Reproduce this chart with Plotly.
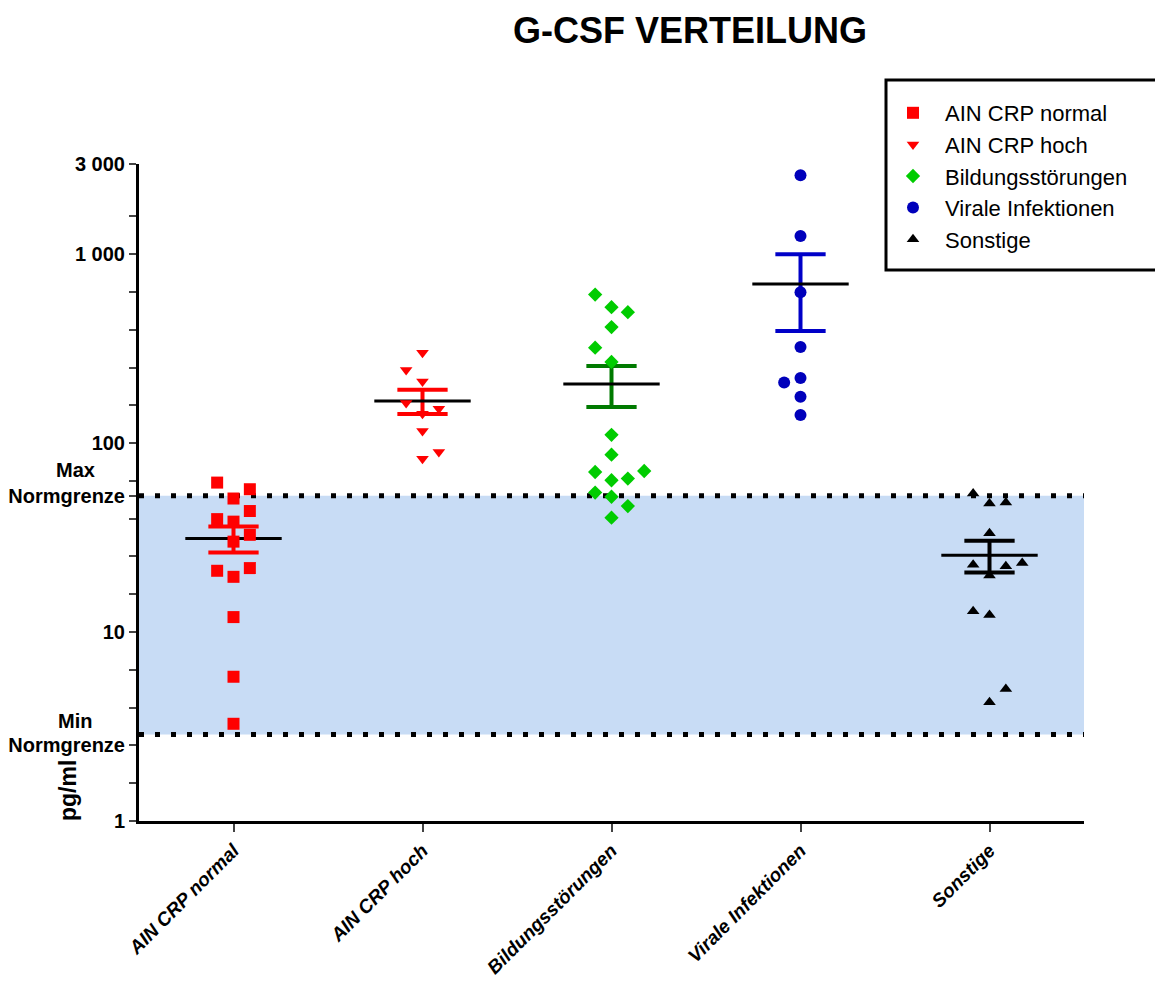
import numpy as np
import plotly.graph_objects as go

# ---------------- data ----------------
categories = ["AIN CRP normal", "AIN CRP hoch", "Bildungsstörungen", "Virale Infektionen", "Sonstige"]

ain_crp_normal = [61.8, 57.0, 50.9, 43.7, 39.6, 38.4, 32.7, 30.1, 21.1, 19.6, 21.8, 12.0, 5.8, 3.27]
ain_crp_hoch = [301, 244, 212, 163, 143, 152, 116, 89.7, 82.6]
bildungsstoerungen = [611, 524, 493, 411, 320, 269, 110.6, 86.8, 70.3, 71.2, 63.6, 64.9, 54.7, 52.0, 46.4, 40.3]
virale_infektionen = [2614, 1249, 629, 323, 209, 221, 176, 141]
sonstige = [54.1, 47.9, 48.5, 33.3, 22.7, 22.3, 23.2, 19.95, 12.9, 12.3, 5.0, 4.25]

norm_min = 2.87
norm_max = 52.6

y_tick_labels = {1: "1", 10: "10", 100: "100", 1000: "1 000", 3000: "3 000"}

# scatter-column lane of each point (beeswarm layout, in lane units)
lanes = [
    [-1, 1, 0, 1, -1, 0, 1, 0, -1, 0, 1, 0, 0, 0],
    [0, -1, 0, -1, 0, 1, 0, 1, 0],
    [-1, 0, 1, 0, -1, 0, 0, 0, -1, 2, 0, 1, -1, 0, 1, 0],
    [0, 0, 0, 0, -1, 0, 0, 0],
    [-1, 0, 1, 0, -1, 1, 2, 0, -1, 0, 1, 0],
]

# ---------------- styles ----------------
series = [ain_crp_normal, ain_crp_hoch, bildungsstoerungen, virale_infektionen, sonstige]
symbols = ["square", "triangle-down", "diamond", "circle", "triangle-up"]
marker_colors = ["#ff0000", "#ff0000", "#00cc00", "#0000bb", "#000000"]
bar_colors = ["#ff0000", "#ff0000", "#007a00", "#0000c8", "#000000"]
marker_sizes = [12, 11, 11, 12, 11]
LANE = 0.0865
CAP = 0.133
MEANW = 0.255
FONT = "Arial, Liberation Sans, sans-serif"

# page offset (body margin) compensation: figure starts at (8, 8) in the window
OFF = 8
PL, PT, PR, PB = 139, 164, 1084, 821   # plot area in window pixels
W, H = 1163 - OFF, 981 - OFF
PW, PH = PR - PL, PB - PT


def px_x(x):
    return (x - PL) / PW


def px_y(y):
    return (PB - y) / PH


fig = go.Figure()

# error bars (mean +/- SEM) and mean lines
for i, vals in enumerate(series):
    v = np.array(vals, dtype=float)
    m = v.mean()
    sem = v.std(ddof=1) / np.sqrt(len(v))
    lo, hi = m - sem, m + sem
    fig.add_trace(go.Scatter(
        x=[i, i, None, i - CAP, i + CAP, None, i - CAP, i + CAP],
        y=[lo, hi, None, hi, hi, None, lo, lo],
        mode="lines", line=dict(color=bar_colors[i], width=4),
        showlegend=False, hoverinfo="skip"))
    fig.add_trace(go.Scatter(
        x=[i - MEANW, i + MEANW], y=[m, m], mode="lines",
        line=dict(color="black", width=3), showlegend=False, hoverinfo="skip"))

# points
for i, vals in enumerate(series):
    xs = [i + l * LANE for l in lanes[i]]
    fig.add_trace(go.Scatter(
        x=xs, y=vals, mode="markers", name=categories[i],
        marker=dict(symbol=symbols[i], color=marker_colors[i], size=marker_sizes[i],
                    line=dict(width=0))))

# y ticks: every 0.2 decade plus special ones
tickvals = [10 ** (0.2 * k) for k in range(17)] + [3000, norm_max]
ticktext = []
for t in tickvals:
    lab = ""
    for k, s in y_tick_labels.items():
        if abs(t - k) / k < 1e-6:
            lab = s
    ticktext.append(lab)
ticktext[2] = "Normgrenze"
ticktext[-1] = "Normgrenze"

fig.update_layout(
    width=W, height=H,
    paper_bgcolor="white", plot_bgcolor="white",
    margin=dict(l=PL - OFF, r=W - (PR - OFF), t=PT - OFF, b=H - (PB - OFF), pad=0,
                autoexpand=False),
    font=dict(family=FONT, color="black"),
    xaxis=dict(range=[-0.5, 4.5], tickvals=list(range(5)), ticktext=categories,
               tickangle=-45, ticks="outside", ticklen=8, tickwidth=2,
               showline=True, linewidth=3, linecolor="black", showgrid=False,
               zeroline=False, automargin=False,
               tickfont=dict(size=19, family=FONT, color="black",
                             weight="bold", style="italic")),
    yaxis=dict(type="log", range=[0, np.log10(3000)], tickvals=tickvals, ticktext=ticktext,
               ticks="outside", ticklen=7, tickwidth=2, showline=True, linewidth=3,
               linecolor="black", showgrid=False, zeroline=False, automargin=False,
               tickfont=dict(size=20, family=FONT, color="black", weight="bold")),
    legend=dict(x=px_x(881), y=px_y(92), xanchor="left", yanchor="top",
                font=dict(size=22, family=FONT, color="black"),
                bgcolor="rgba(0,0,0,0)", borderwidth=0, tracegroupgap=0,
                itemwidth=54),
    showlegend=True,
)

# normal range band + dotted limits
fig.add_shape(type="rect", xref="x domain", yref="y", x0=0, x1=1, y0=norm_min, y1=norm_max,
              fillcolor="#c8dcf5", line=dict(width=0), layer="below")
for yv in [norm_min, norm_max]:
    fig.add_shape(type="line", xref="x domain", yref="y", x0=0, x1=1, y0=yv, y1=yv,
                  line=dict(color="black", width=5, dash="5px,11px"), layer="below")

# legend frame
fig.add_shape(type="rect", xref="paper", yref="paper",
              x0=px_x(886), x1=px_x(1180), y0=px_y(270), y1=px_y(80),
              line=dict(color="black", width=3), fillcolor="rgba(0,0,0,0)")

# title
fig.add_annotation(text="<b>G-CSF VERTEILUNG</b>", xref="paper", yref="paper",
                   x=px_x(690), y=px_y(OFF + 1), showarrow=False,
                   font=dict(size=36, family=FONT, color="black"),
                   xanchor="center", yanchor="top", borderpad=0)
# Max / Min labels
for txt, ypix in [("Max", 470), ("Min", 721)]:
    fig.add_annotation(text="<b>" + txt + "</b>", xref="paper", yref="paper",
                       x=px_x(75), y=px_y(ypix), showarrow=False,
                       font=dict(size=20, family=FONT, color="black"),
                       xanchor="center", yanchor="middle")
# y axis title
fig.add_annotation(text="<b>pg/ml</b>", xref="paper", yref="paper",
                   x=px_x(68), y=px_y(791), showarrow=False,
                   textangle=-90,
                   font=dict(size=23, family=FONT, color="black"),
                   xanchor="center", yanchor="middle")

fig.write_html("out.html")
